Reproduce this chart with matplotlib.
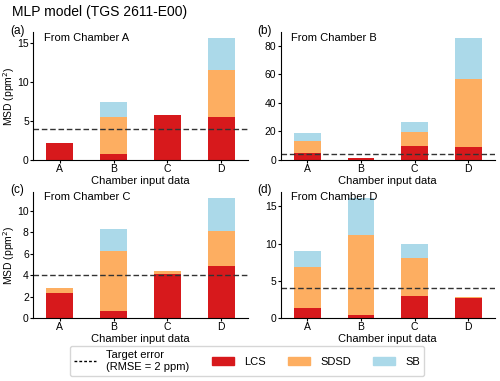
import matplotlib
matplotlib.use("Agg")
import matplotlib.pyplot as plt
from matplotlib.lines import Line2D
from matplotlib.patches import Patch
import numpy as np

plt.rcParams['font.family'] = ['Liberation Sans', 'DejaVu Sans']

chambers = ['A', 'B', 'C', 'D']
panels = ['(a)', '(b)', '(c)', '(d)']
sources = ['From Chamber A', 'From Chamber B', 'From Chamber C', 'From Chamber D']

# stacked MSD components per panel (LCS, SDSD, SB)
lcs = [
    [2.2, 0.75, 5.7, 5.45],
    [5.2, 1.6, 10.1, 9.4],
    [2.35, 0.7, 4.12, 4.87],
    [1.4, 0.4, 2.95, 2.7],
]
sdsd = [
    [0.0, 4.7, 0.0, 6.05],
    [8.2, 0.0, 9.2, 47.3],
    [0.47, 5.55, 0.28, 3.21],
    [5.47, 10.75, 5.12, 0.07],
]
sb = [
    [0.0, 1.95, 0.0, 4.1],
    [5.4, 0.0, 7.5, 28.5],
    [0.0, 2.0, 0.0, 3.12],
    [2.14, 5.0, 1.83, 0.0],
]
target = 4.0  # RMSE = 2 ppm -> MSD = 4

c_lcs = '#d7191c'
c_sdsd = '#fdae61'
c_sb = '#abd9e9'

fig = plt.figure(figsize=(5.0, 3.81), dpi=100)
boxes = [
    [0.066, 0.580, 0.430, 0.336],
    [0.561, 0.580, 0.429, 0.336],
    [0.066, 0.165, 0.430, 0.332],
    [0.561, 0.165, 0.429, 0.332],
]
x = np.arange(len(chambers))
for i, box in enumerate(boxes):
    ax = fig.add_axes(box)
    l = np.array(lcs[i])
    s = np.array(sdsd[i])
    b = np.array(sb[i])
    ax.bar(x, l, 0.5, color=c_lcs)
    ax.bar(x, s, 0.5, bottom=l, color=c_sdsd)
    ax.bar(x, b, 0.5, bottom=l + s, color=c_sb)
    ax.axhline(target, color='#333333', ls='--', lw=1.0, dashes=(4, 2))
    ax.set_xlim(-0.5, 3.5)
    ax.set_xticks(x)
    ax.set_xticklabels(chambers)
    ax.spines['top'].set_visible(False)
    ax.spines['right'].set_visible(False)
    ax.tick_params(labelsize=7.5, length=2, width=0.8, pad=1.0)
    ax.text(0.05, 0.995, sources[i], transform=ax.transAxes, fontsize=8,
            va='top', ha='left')
    ax.text(-0.107, 1.01, panels[i], transform=ax.transAxes, fontsize=8.5,
            va='center', ha='left')
    ax.set_xlabel('Chamber input data', fontsize=8, labelpad=1)
    if i % 2 == 0:
        ax.set_ylabel('MSD (ppm$^2$)', fontsize=7.5)
        ax.yaxis.set_label_coords(-0.074, 0.5)

fig.text(0.024, 0.968, 'MLP model (TGS 2611-E00)', fontsize=10,
         va='center', ha='left')

handles = [
    Line2D([0], [0], color='black', ls='--', lw=1.0, dashes=(2, 1.5)),
    Patch(color=c_lcs),
    Patch(color=c_sdsd),
    Patch(color=c_sb),
]
labels = ['Target error\n(RMSE = 2 ppm)', 'LCS', 'SDSD', 'SB']
fig.legend(handles, labels, loc='center', bbox_to_anchor=(0.494, 0.052),
           ncol=4, fontsize=8, frameon=True, handlelength=2.0,
           columnspacing=2.0, handletextpad=0.9, borderpad=0.4,
           edgecolor='#cccccc')

fig.savefig('out.png', dpi=100)
